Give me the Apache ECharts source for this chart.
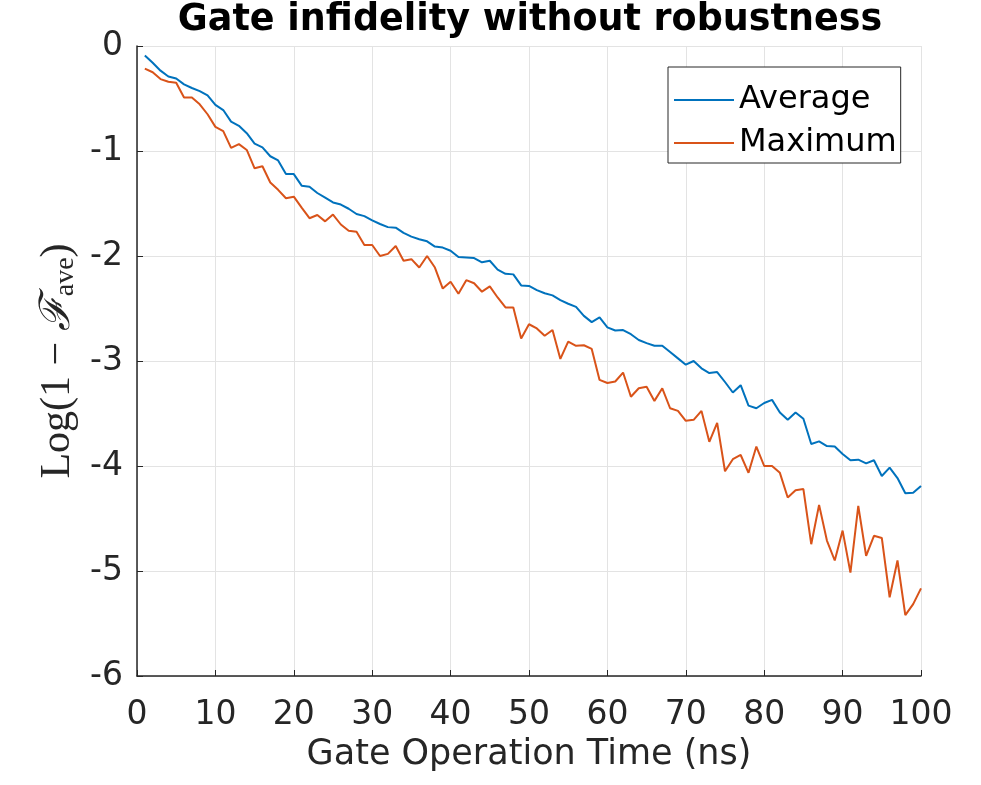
<!DOCTYPE html>
<html>
<head>
<meta charset="utf-8">
<script src="https://cdn.jsdelivr.net/npm/echarts@6/dist/echarts.min.js"></script>
<style>
  html, body { margin: 0; padding: 0; background: #fff; }
  #main { width: 981px; height: 785px; }
</style>
</head>
<body>
<div id="main"></div>
<script>
// log10(1 - F_ave) vs gate time
var avgLog = [
  -0.09, -0.16, -0.235, -0.29, -0.31, -0.365, -0.40, -0.43, -0.47, -0.56,
  -0.61, -0.72, -0.76, -0.83, -0.93, -0.965, -1.05, -1.09, -1.22, -1.22,
  -1.33, -1.34, -1.40, -1.445, -1.49, -1.51, -1.55, -1.60, -1.62, -1.66,
  -1.695, -1.725, -1.73, -1.78, -1.815, -1.84, -1.86, -1.91, -1.92, -1.95,
  -2.01, -2.015, -2.02, -2.06, -2.045, -2.13, -2.17, -2.175, -2.28, -2.285,
  -2.325, -2.355, -2.375, -2.42, -2.455, -2.485, -2.57, -2.63, -2.585, -2.68,
  -2.71, -2.705, -2.745, -2.80, -2.83, -2.855, -2.855, -2.915, -2.975, -3.035,
  -3.0, -3.07, -3.115, -3.105, -3.20, -3.30, -3.23, -3.425, -3.45, -3.40,
  -3.37, -3.49, -3.56, -3.49, -3.55, -3.79, -3.765, -3.81, -3.815, -3.885,
  -3.945, -3.94, -3.975, -3.945, -4.095, -4.015, -4.115, -4.26, -4.255, -4.19
];
var maxLog = [
  -0.215, -0.25, -0.315, -0.34, -0.35, -0.49, -0.49, -0.555, -0.65, -0.77,
  -0.81, -0.97, -0.935, -0.99, -1.165, -1.145, -1.30, -1.37, -1.45, -1.435,
  -1.54, -1.64, -1.61, -1.67, -1.605, -1.70, -1.76, -1.77, -1.895, -1.895,
  -2.0, -1.98, -1.905, -2.045, -2.03, -2.11, -2.0, -2.11, -2.31, -2.245,
  -2.36, -2.23, -2.26, -2.34, -2.29, -2.395, -2.49, -2.49, -2.785, -2.65,
  -2.69, -2.76, -2.705, -2.98, -2.815, -2.855, -2.85, -2.885, -3.18, -3.21,
  -3.195, -3.11, -3.34, -3.26, -3.245, -3.38, -3.26, -3.45, -3.475, -3.57,
  -3.56, -3.475, -3.77, -3.59, -4.05, -3.935, -3.895, -4.065, -3.815, -4.0,
  -4.0, -4.065, -4.30, -4.23, -4.22, -4.745, -4.37, -4.71, -4.90, -4.615,
  -5.015, -4.38, -4.855, -4.665, -4.685, -5.25, -4.90, -5.42, -5.315, -5.165
];
var seriesNames = ['Average', 'Maximum'];
var xTicks = [0, 100, 10];   // min, max, step
var yTicks = [-6, 0, 1];

// gate times 1..100 ns, one per sample
var timeNs = [];
for (var i = 0; i < avgLog.length; i++) timeNs.push(i + 1);

function pairs(vals) {
  return vals.map(function (v, i) { return [timeNs[i], v]; });
}

var axisColor = '#262626';
var gridColor = '#e3e3e3';
var sans = 'DejaVu Sans';
var serif = "'Liberation Serif', 'DejaVu Serif', serif";

var myChart = echarts.init(document.getElementById('main'));
var option = {
  backgroundColor: '#fff',
  animation: false,
  title: {
    text: 'Gate infidelity without robustness',
    left: 530,
    top: 2,
    padding: 0,
    textAlign: 'center',
    textStyle: { fontFamily: sans, fontWeight: 'bold', fontSize: 36.5, color: '#000' }
  },
  legend: {
    data: seriesNames,
    orient: 'vertical',
    left: 668,
    top: 67,
    padding: [17, 4, 4, 6],
    itemGap: 11,
    itemWidth: 60,
    itemHeight: 2,
    icon: 'rect',
    borderColor: '#262626',
    borderWidth: 1,
    backgroundColor: '#fff',
    textStyle: { fontFamily: sans, fontSize: 32, color: '#000' }
  },
  grid: { left: 137, top: 46, width: 784, height: 630 },
  xAxis: {
    type: 'value',
    min: xTicks[0], max: xTicks[1], interval: xTicks[2],
    name: 'Gate Operation Time (ns)',
    nameLocation: 'middle',
    nameGap: 61,
    nameTextStyle: { fontFamily: sans, fontSize: 35, color: axisColor },
    axisLine: { onZero: false, lineStyle: { color: axisColor, width: 1.5 } },
    axisTick: { inside: true, length: 6, lineStyle: { color: axisColor } },
    axisLabel: { margin: 23, fontFamily: sans, fontSize: 33, color: axisColor },
    splitLine: { show: true, lineStyle: { color: gridColor, width: 1 } }
  },
  yAxis: {
    type: 'value',
    min: yTicks[0], max: yTicks[1], interval: yTicks[2],
    name: '{t|Log(1 − }{f|ℱ}{s|ave}{t|)}',
    nameLocation: 'middle',
    nameRotate: 90,
    nameGap: 57,
    nameTextStyle: {
      rich: {
        t: { fontFamily: serif, fontSize: 42, color: axisColor },
        f: { fontFamily: serif, fontSize: 42, fontStyle: 'italic', color: axisColor },
        s: { fontFamily: serif, fontSize: 28, color: axisColor, verticalAlign: 'bottom', lineHeight: 20 }
      }
    },
    axisLine: { show: true, onZero: false, lineStyle: { color: axisColor, width: 1.5 } },
    axisTick: { show: true, inside: true, length: 6, lineStyle: { color: axisColor } },
    axisLabel: { margin: 14, fontFamily: sans, fontSize: 33, color: axisColor },
    splitLine: { show: true, lineStyle: { color: gridColor, width: 1 } }
  },
  series: [
    {
      name: seriesNames[0],
      type: 'line',
      data: pairs(avgLog),
      showSymbol: false,
      color: '#0072BD',
      lineStyle: { width: 2, color: '#0072BD' }
    },
    {
      name: seriesNames[1],
      type: 'line',
      data: pairs(maxLog),
      showSymbol: false,
      color: '#D95319',
      lineStyle: { width: 2, color: '#D95319' }
    }
  ]
};
myChart.setOption(option);
</script>
</body>
</html>
